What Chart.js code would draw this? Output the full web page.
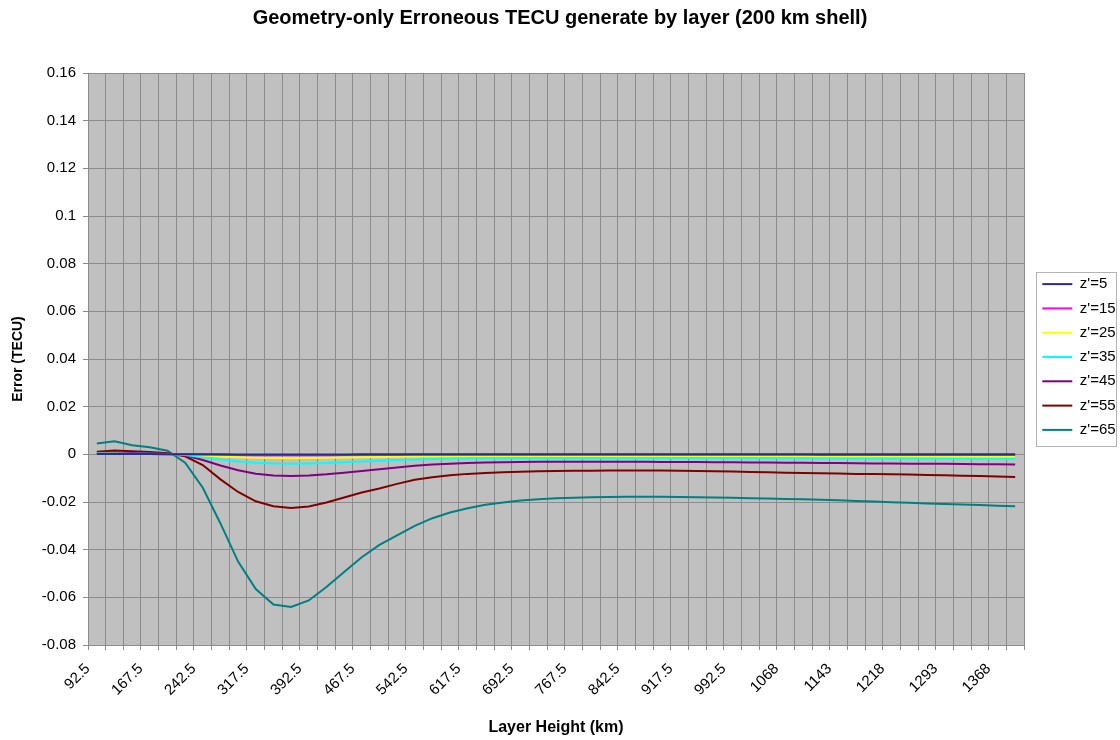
<!DOCTYPE html>
<html>
<head>
<meta charset="utf-8">
<title>Geometry-only Erroneous TECU</title>
<script src="https://cdn.jsdelivr.net/npm/chart.js@4/dist/chart.umd.min.js"></script>
<style>
  html, body { margin: 0; padding: 0; background: #fff; }
  #wrap { width: 1120px; height: 740px; }
</style>
</head>
<body>
<div id="wrap"><canvas id="chart" width="1120" height="740"></canvas></div>
<script>
// Layer heights (km), one category per 25 km
const heights = [
  92.5, 117.5, 142.5, 167.5, 192.5, 217.5, 242.5, 267.5, 292.5, 317.5,
  342.5, 367.5, 392.5, 417.5, 442.5, 467.5, 492.5, 517.5, 542.5, 567.5,
  592.5, 617.5, 642.5, 667.5, 692.5, 717.5, 742.5, 767.5, 792.5, 817.5,
  842.5, 867.5, 892.5, 917.5, 942.5, 967.5, 992.5, 1017.5, 1042.5, 1067.5,
  1092.5, 1117.5, 1142.5, 1167.5, 1192.5, 1217.5, 1242.5, 1267.5, 1292.5, 1317.5,
  1342.5, 1367.5, 1392.5
]

// labels shown on every third category
const tickLabels = [
  "92.5", "167.5", "242.5", "317.5", "392.5", "467.5", "542.5", "617.5", "692.5",
  "767.5", "842.5", "917.5", "992.5", "1068", "1143", "1218", "1293", "1368"
]

const seriesNames = ["z'=5", "z'=15", "z'=25", "z'=35", "z'=45", "z'=55", "z'=65"]

const z5 = [
  0.0001, 0.0001, 0.0001, 0.0001, 0.0000, 0.0000, 0.0000, 0.0000, -0.0001, -0.0001,
  -0.0001, -0.0001, -0.0001, -0.0001, -0.0001, 0.0000, 0.0000, 0.0000, 0.0000, 0.0000,
  0.0000, 0.0000, 0.0000, 0.0000, 0.0000, 0.0000, 0.0000, 0.0000, 0.0000, 0.0000,
  0.0000, 0.0000, 0.0000, 0.0000, 0.0000, 0.0000, 0.0000, 0.0000, 0.0000, 0.0000,
  0.0000, 0.0000, 0.0000, 0.0000, 0.0000, 0.0000, 0.0000, 0.0000, 0.0000, 0.0000,
  0.0000, 0.0000, 0.0000
]

const z15 = [
  0.0001, 0.0001, 0.0001, 0.0001, 0.0000, 0.0000, -0.0001, -0.0002, -0.0003, -0.0004,
  -0.0004, -0.0004, -0.0004, -0.0004, -0.0003, -0.0003, -0.0003, -0.0003, -0.0002, -0.0002,
  -0.0002, -0.0002, -0.0002, -0.0002, -0.0002, -0.0002, -0.0002, -0.0002, -0.0002, -0.0002,
  -0.0002, -0.0002, -0.0002, -0.0002, -0.0002, -0.0002, -0.0002, -0.0002, -0.0002, -0.0002,
  -0.0002, -0.0003, -0.0003, -0.0003, -0.0003, -0.0003, -0.0003, -0.0003, -0.0003, -0.0003,
  -0.0003, -0.0003, -0.0003
]

const z25 = [
  0.0002, 0.0002, 0.0001, 0.0001, 0.0001, -0.0001, -0.0005, -0.0009, -0.0012, -0.0014,
  -0.0015, -0.0016, -0.0015, -0.0014, -0.0013, -0.0012, -0.0011, -0.0010, -0.0009, -0.0008,
  -0.0008, -0.0007, -0.0007, -0.0007, -0.0007, -0.0007, -0.0007, -0.0007, -0.0007, -0.0007,
  -0.0007, -0.0007, -0.0007, -0.0007, -0.0007, -0.0007, -0.0007, -0.0007, -0.0007, -0.0007,
  -0.0007, -0.0008, -0.0008, -0.0008, -0.0008, -0.0008, -0.0008, -0.0008, -0.0009, -0.0009,
  -0.0009, -0.0009, -0.0009
]

const z35 = [
  0.0003, 0.0003, 0.0002, 0.0002, 0.0001, -0.0003, -0.0012, -0.0022, -0.0030, -0.0035,
  -0.0038, -0.0039, -0.0038, -0.0036, -0.0033, -0.0030, -0.0027, -0.0024, -0.0022, -0.0020,
  -0.0018, -0.0017, -0.0016, -0.0016, -0.0015, -0.0015, -0.0015, -0.0015, -0.0015, -0.0015,
  -0.0015, -0.0015, -0.0015, -0.0015, -0.0015, -0.0015, -0.0015, -0.0015, -0.0015, -0.0016,
  -0.0016, -0.0016, -0.0017, -0.0017, -0.0017, -0.0017, -0.0018, -0.0018, -0.0018, -0.0018,
  -0.0019, -0.0019, -0.0019
]

const z45 = [
  0.0007, 0.0008, 0.0006, 0.0004, 0.0002, -0.0004, -0.0024, -0.0047, -0.0067, -0.0081,
  -0.0089, -0.0091, -0.0089, -0.0084, -0.0077, -0.0070, -0.0063, -0.0055, -0.0048, -0.0043,
  -0.0039, -0.0036, -0.0034, -0.0033, -0.0032, -0.0031, -0.0031, -0.0031, -0.0031, -0.0031,
  -0.0031, -0.0031, -0.0032, -0.0032, -0.0032, -0.0033, -0.0033, -0.0034, -0.0034, -0.0035,
  -0.0035, -0.0036, -0.0036, -0.0037, -0.0038, -0.0038, -0.0039, -0.0040, -0.0040, -0.0041,
  -0.0042, -0.0042, -0.0043
]

const z55 = [
  0.0011, 0.0016, 0.0013, 0.0010, 0.0005, -0.0008, -0.0045, -0.0105, -0.0158, -0.0197,
  -0.0218, -0.0225, -0.0219, -0.0202, -0.0181, -0.0160, -0.0143, -0.0124, -0.0107, -0.0096,
  -0.0088, -0.0082, -0.0078, -0.0075, -0.0073, -0.0071, -0.0070, -0.0069, -0.0069, -0.0068,
  -0.0068, -0.0068, -0.0068, -0.0069, -0.0070, -0.0071, -0.0072, -0.0074, -0.0075, -0.0077,
  -0.0078, -0.0079, -0.0080, -0.0082, -0.0083, -0.0084, -0.0085, -0.0087, -0.0088, -0.0090,
  -0.0091, -0.0093, -0.0095
]

const z65 = [
  0.0045, 0.0055, 0.0038, 0.0030, 0.0015, -0.0035, -0.0140, -0.0290, -0.0450, -0.0565,
  -0.0630, -0.0640, -0.0613, -0.0557, -0.0494, -0.0432, -0.0380, -0.0340, -0.0300, -0.0268,
  -0.0244, -0.0226, -0.0212, -0.0202, -0.0194, -0.0188, -0.0184, -0.0182, -0.0180, -0.0179,
  -0.0178, -0.0178, -0.0178, -0.0179, -0.0180, -0.0181, -0.0182, -0.0184, -0.0185, -0.0187,
  -0.0188, -0.0191, -0.0193, -0.0196, -0.0198, -0.0201, -0.0203, -0.0206, -0.0208, -0.0211,
  -0.0213, -0.0216, -0.0218
]

const seriesValues = [z5, z15, z25, z35, z45, z55, z65]
const seriesColors = ["#2b2b8c", "#ff00ff", "#ffff00", "#00ffff", "#800080", "#800000", "#008080"]

// grey plot area like the old spreadsheet charts
const plotBackground = {
  id: "plotBackground",
  beforeDraw(chart) {
    const { ctx, chartArea: a } = chart
    ctx.save()
    ctx.fillStyle = "#c0c0c0"
    ctx.fillRect(a.left, a.top, a.right - a.left, a.bottom - a.top)
    ctx.restore()
  }
}

// fixed legend width, small nudge, and a framed box around it
const legendBox = {
  id: "legendBox",
  beforeInit(chart) {
    const legend = chart.legend
    const fit = legend.fit
    legend.fit = function () {
      fit.call(this)
      this.width = 96
    }
  },
  afterLayout(chart) {
    const legend = chart.legend
    legend.left += 9
    legend.right += 9
    legend.top -= 2
    legend.bottom -= 2
  },
  afterDraw(chart) {
    const boxes = chart.legend.legendHitBoxes
    if (!boxes || !boxes.length) return
    const first = boxes[0]
    const last = boxes[boxes.length - 1]
    const left = Math.round(first.left - 6) + 0.5
    const top = Math.round(first.top - 5) + 0.5
    const right = chart.width - 3.5
    const bottom = Math.round(last.top + last.height + 9) + 0.5
    const ctx = chart.ctx
    ctx.save()
    ctx.strokeStyle = "#b4b4b4"
    ctx.lineWidth = 1
    ctx.strokeRect(left, top, right - left, bottom - top)
    ctx.restore()
  }
}

Chart.defaults.font.family = '"Liberation Sans", Arial, sans-serif'
Chart.defaults.color = "#000"

const gridColor = "#8c8c8c"

new Chart(document.getElementById("chart"), {
  type: "line",
  data: {
    labels: heights,
    datasets: seriesNames.map((name, i) => ({
      label: name,
      data: seriesValues[i],
      borderColor: seriesColors[i],
      backgroundColor: seriesColors[i],
      borderWidth: 2,
      pointRadius: 0,
      tension: 0,
      fill: false
    }))
  },
  options: {
    responsive: false,
    devicePixelRatio: 1,
    animation: false,
    layout: { padding: 0 },
    plugins: {
      title: {
        display: true,
        text: "Geometry-only Erroneous TECU generate by layer (200 km shell)",
        font: { size: 20, weight: "bold" },
        color: "#000",
        padding: { top: 6, bottom: 43 }
      },
      legend: {
        position: "right",
        fullSize: false,
        labels: {
          usePointStyle: true,
          pointStyle: "line",
          pointStyleWidth: 30,
          padding: 9.3,
          font: { size: 15 },
          color: "#000"
        }
      },
      tooltip: { enabled: false }
    },
    scales: {
      x: {
        offset: true,
        grid: { offset: true, color: gridColor, lineWidth: 1, tickLength: 5 },
        border: { color: gridColor },
        ticks: {
          autoSkip: false,
          minRotation: 45,
          maxRotation: 45,
          padding: 10,
          labelOffset: -9,
          font: { size: 15 },
          color: "#000",
          callback: (v, i) => (i % 3 === 0 ? tickLabels[i / 3] : "")
        },
        title: {
          display: true,
          text: "Layer Height (km)",
          font: { size: 16, weight: "bold" },
          color: "#000",
          padding: { top: 0, bottom: 3 }
        },
        afterFit(scale) {
          scale.height = 95
        }
      },
      y: {
        min: -0.08,
        max: 0.16,
        grid: { color: gridColor, lineWidth: 1, tickLength: 5 },
        border: { color: gridColor },
        ticks: {
          stepSize: 0.02,
          padding: 7,
          font: { size: 15 },
          color: "#000",
          callback: (v) => String(Number(v.toFixed(2)))
        },
        title: {
          display: true,
          text: "Error (TECU)",
          font: { size: 14, weight: "bold" },
          color: "#000",
          padding: { top: 10, bottom: 0 }
        },
        afterFit(scale) {
          scale.width = 88
        }
      }
    }
  },
  plugins: [plotBackground, legendBox]
})
</script>
</body>
</html>
